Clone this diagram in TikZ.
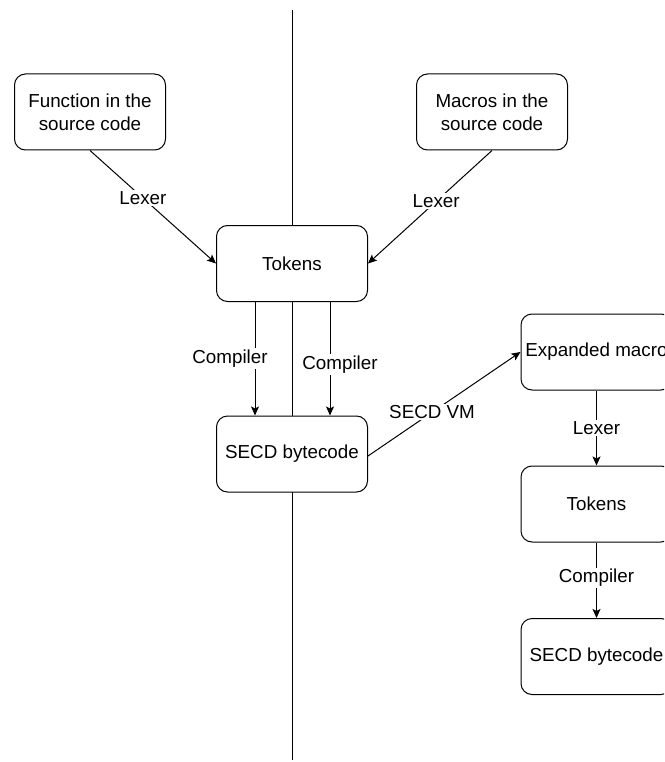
\documentclass[tikz,border=0pt]{standalone}
\usepackage{fontspec}
\setmainfont{Liberation Sans}
\usetikzlibrary{arrows.meta}
\begin{document}
\begin{tikzpicture}[x=1pt,y=-1pt,
  every node/.style={font=\fontsize{18.8}{23}\selectfont},
  box/.style={draw, fill=white, rounded corners=11pt, line width=1pt,
    minimum width=151pt, minimum height=76pt, align=center, inner sep=0pt},
  flow/.style={draw, line width=1pt, -{Stealth[length=9pt,width=8pt,inset=2pt]}},
  lbl/.style={fill=white, inner sep=1.5pt}]
\clip (0,0) rectangle (664,762);
\useasboundingbox (0,0) rectangle (664,762);
\fill[white] (0,0) rectangle (664,762);

% dividing line between the two phases
\coordinate (ltop) at (292,10);
\coordinate (lbot) at (292,760);
\draw[line width=1pt] (ltop) -- (lbot);

% boxes
\node[box] (fun) at (90,112) {Function in the\\source code};
\node[box] (mac) at (492,112) {Macros in the\\source code};
\node[box] (tok) at (292,263.5) {Tokens};
\node[box] (secd) at (292,454) {SECD bytecode};
\node[box] (exp) at (596.5,352) {Expanded macro};
\node[box] (tok2) at (596.5,504) {Tokens};
\node[box] (secd2) at (596.5,656.5) {SECD bytecode};

% edges
\draw[flow] (fun.south) -- (tok.west)
  node[lbl, pos=0.42] {Lexer};
\draw[flow] (mac.south) -- (tok.east)
  node[lbl, pos=0.45] {Lexer};
\draw[flow] ([xshift=-37pt]tok.south) -- ([xshift=-37pt]secd.north)
  node[lbl, pos=0.5, xshift=-25pt] {Compiler};
\draw[flow] ([xshift=38pt]tok.south) -- ([xshift=38pt]secd.north)
  node[lbl, pos=0.55, xshift=10pt] {Compiler};
\draw[flow] ([yshift=-2pt]secd.east) -- (exp.west)
  node[lbl, pos=0.42] {SECD VM};
\draw[flow] (exp.south) -- (tok2.north)
  node[lbl, pos=0.5] {Lexer};
\draw[flow] (tok2.south) -- (secd2.north)
  node[lbl, pos=0.47] {Compiler};
\end{tikzpicture}
\end{document}
